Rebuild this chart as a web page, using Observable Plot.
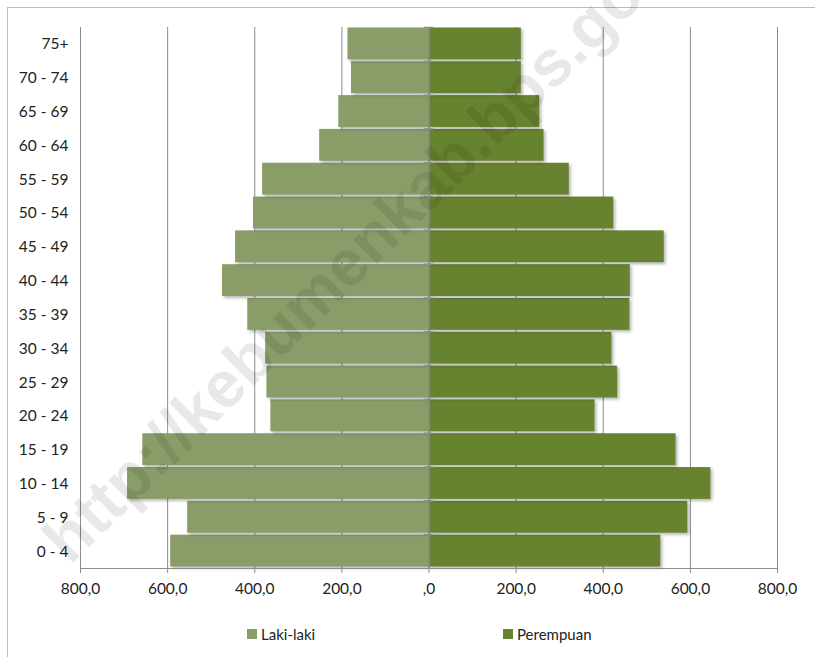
<!DOCTYPE html>
<html>
<head>
<meta charset="utf-8">
<script src="https://cdn.jsdelivr.net/npm/d3@7"></script>
<script src="https://cdn.jsdelivr.net/npm/@observablehq/plot@0.6"></script>
<style>
  html, body { margin: 0; padding: 0; background: #fff; overflow: hidden; }
  body { width: 815px; height: 657px; position: relative; font-family: Lato, "Open Sans", sans-serif; }
  #frame { position: absolute; left: 7px; top: 7px; width: 830px; height: 680px; border: 1px solid #bdbdbd; box-sizing: border-box; }
  #chart { position: absolute; left: 0; top: 0; }
  #chart g[aria-label="bar"] rect { filter: drop-shadow(2px 2px 1.5px rgba(0,0,0,0.28)); }
  .leg { position: absolute; top: 625px; font-size: 15px; color: #222; display: flex; align-items: center; }
  .leg span.sw { display: inline-block; width: 10px; height: 10px; margin-right: 4px; }
  #wm { position: absolute; left: 0; top: 0; pointer-events: none; }
</style>
</head>
<body>
<div id="frame"></div>
<div id="chart"></div>
<div class="leg" style="left:247px"><span class="sw" style="background:#8a9d69"></span>Laki-laki</div>
<div class="leg" style="left:503px"><span class="sw" style="background:#68832f"></span>Perempuan</div>
<svg id="wm" width="815" height="657">
  <text x="70" y="566" transform="rotate(-44.5 70 566)" font-family="'Liberation Sans', Arial, sans-serif" font-weight="bold" font-size="65" fill="#000" fill-opacity="0.09">http://kebumenkab.bps.go.id</text>
</svg>
<script>
const ages = ["0 - 4","5 - 9","10 - 14","15 - 19","20 - 24","25 - 29","30 - 34","35 - 39","40 - 44","45 - 49","50 - 54","55 - 59","60 - 64","65 - 69","70 - 74","75+"];
const male   = [593, 554, 692, 657, 363, 372, 375, 416, 474, 444, 403, 382, 251, 207, 178, 186];
const female = [532, 594, 647, 567, 381, 433, 420, 461, 462, 540, 424, 322, 264, 254, 212, 212];
const seriesNames = ["Laki-laki", "Perempuan"];
const seriesColors = ["#8a9d69", "#68832f"];
const xTicks = [-800, -600, -400, -200, 0, 200, 400, 600, 800];

const rows = [];
ages.forEach((a, i) => {
  rows.push({age: a, sex: seriesNames[0], value: -male[i]});
  rows.push({age: a, sex: seriesNames[1], value: female[i]});
});

const W = 815, H = 615, mT = 27, mB = 47;
const step = (H - mT - mB) / ages.length;
const fmt = d => d === 0 ? ",0" : Math.abs(d).toFixed(1).replace(".", ",");

const chart = Plot.plot({
  width: W,
  height: H,
  marginLeft: 80,
  marginRight: 38,
  marginTop: mT,
  marginBottom: mB,
  style: {fontFamily: "Lato, 'Open Sans', sans-serif", fontSize: "15.5px", color: "#222", background: "transparent"},
  x: {domain: [-800, 800], label: null},
  y: {domain: ages.slice().reverse(), padding: 0, round: false, label: null},
  color: {domain: seriesNames, range: seriesColors},
  marks: [
    Plot.gridX(xTicks, {stroke: "#8c8c8c", strokeOpacity: 1, strokeWidth: 1}),
    Plot.barX(rows, {y: "age", x1: 0, x2: "value", fill: "sex", insetTop: 0.5, insetBottom: 1.5}),
    Plot.ruleX([0], {stroke: "#8c8c8c", strokeWidth: 1.5}),
    Plot.ruleY(ages, {y: d => d, dy: -step / 2, x1: -11, x2: 11, stroke: "#8c8c8c", strokeWidth: 1.5}),
    Plot.ruleY([ages[0]], {y: d => d, dy: step / 2, x1: -800, x2: 800, stroke: "#8c8c8c", strokeWidth: 1}),
    Plot.axisX({ticks: xTicks, tickFormat: fmt, tickSize: 5, tickPadding: 9, stroke: "#8c8c8c", fill: "#222", label: null}),
    Plot.axisY({tickSize: 0, tickPadding: 12, fill: "#222", label: null})
  ]
});
document.getElementById("chart").appendChild(chart);
</script>
</body>
</html>
